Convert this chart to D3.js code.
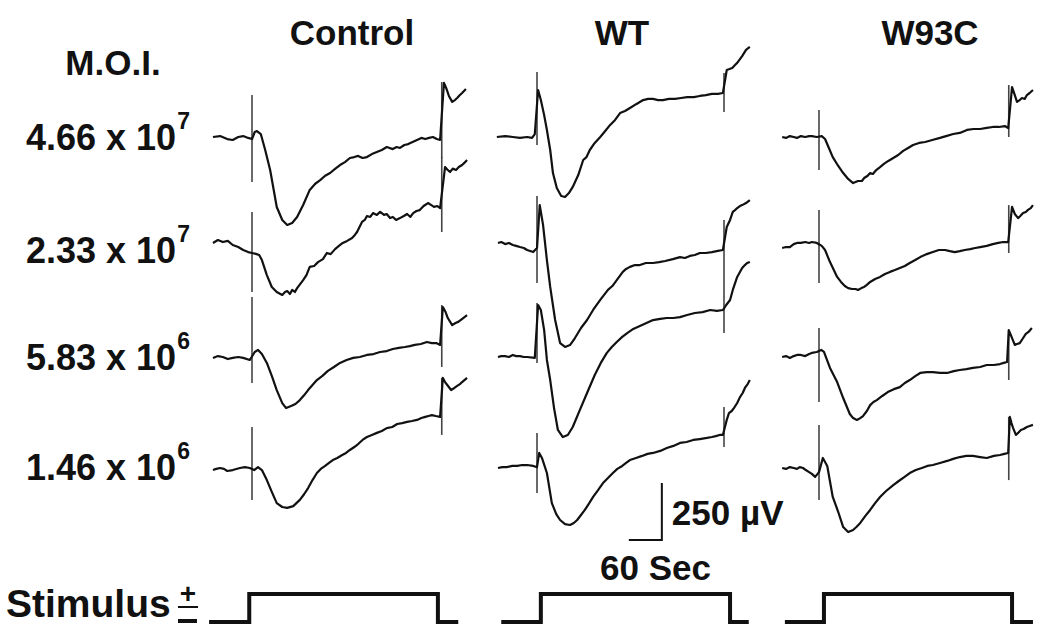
<!DOCTYPE html>
<html><head><meta charset="utf-8">
<script src="https://cdn.jsdelivr.net/npm/d3@7"></script>
<style>body{margin:0;background:#fff}svg{display:block}text{font-family:"Liberation Sans",Arial,sans-serif;font-weight:bold;fill:#111}</style>
</head><body><svg id="c" width="1050" height="642"></svg>
<script>
// ---------- data (time in s relative to stimulus onset, voltage in µV relative to row baseline) ----------
const columns = ["Control", "WT", "W93C"];
const moiMantissa = ["4.66 x 10", "2.33 x 10", "5.83 x 10", "1.46 x 10"];
const moiExponent = ["7", "7", "6", "6"];
const offsetTime = [345, 340, 345];

const ctrl1 = [[-71,0],[-58,4],[-45,-9],[-35,-13],[-25,0],[-16,4],[-7,-4],[0,-9],[5,22],[9,26],[16,13],[24,-57],[33,-145],[45,-307],[55,-364],[64,-386],[73,-377],[82,-351],[93,-298],[105,-232],[115,-205],[124,-189],[133,-170],[142,-158],[151,-140],[160,-123],[169,-110],[178,-92],[186,-88],[193,-83],[201,-92],[209,-88],[218,-75],[227,-66],[236,-57],[245,-44],[256,-53],[263,-44],[269,-48],[277,-35],[284,-31],[292,-22],[300,-13],[308,-4],[315,-9],[322,-4],[329,0],[336,-9],[342,-13],[349,237],[353,215],[358,180],[364,154],[369,162],[373,171],[378,184],[382,193],[389,211]];
const ctrl2 = [[-71,9],[-62,22],[-53,13],[-44,18],[-35,0],[-25,-9],[-16,-22],[-7,-31],[0,-35],[7,-39],[13,-44],[18,-66],[27,-132],[36,-184],[45,-206],[55,-219],[60,-206],[64,-202],[69,-215],[73,-197],[78,-206],[82,-189],[93,-154],[99,-132],[105,-96],[113,-92],[120,-75],[129,-62],[136,-35],[143,-40],[151,-18],[158,-4],[165,9],[173,18],[182,31],[187,44],[191,57],[200,101],[205,110],[209,127],[215,123],[220,140],[227,132],[233,145],[240,132],[245,136],[251,118],[256,123],[262,110],[269,118],[276,127],[282,136],[288,123],[293,140],[299,149],[305,153],[312,171],[320,184],[326,175],[331,167],[337,171],[342,162],[351,342],[355,331],[360,320],[365,335],[371,329],[376,342],[382,351],[386,360],[391,373]];
const ctrl3 = [[-71,-4],[-62,4],[-53,0],[-44,-9],[-35,-4],[-25,0],[-16,-4],[-4,-13],[5,22],[11,31],[18,13],[27,-26],[36,-83],[45,-145],[55,-202],[62,-224],[71,-215],[79,-206],[87,-189],[95,-167],[102,-145],[110,-123],[118,-101],[128,-83],[138,-61],[149,-44],[160,-26],[172,-13],[184,-4],[196,0],[209,9],[221,13],[233,22],[245,26],[256,35],[267,40],[278,44],[287,48],[296,53],[307,57],[318,66],[327,61],[335,61],[342,53],[347,219],[352,197],[356,171],[364,140],[370,149],[375,154],[384,171],[391,184]];
const ctrl4 = [[-71,-9],[-65,-4],[-58,0],[-51,-4],[-45,-13],[-35,-9],[-22,0],[-13,4],[-4,0],[4,-9],[11,4],[18,-9],[27,-53],[36,-105],[45,-154],[55,-171],[64,-175],[75,-167],[87,-140],[95,-114],[102,-88],[110,-53],[118,-22],[125,-4],[133,9],[140,22],[147,35],[155,44],[164,57],[171,66],[178,79],[186,92],[193,105],[201,123],[209,136],[218,145],[227,154],[236,162],[245,175],[255,180],[264,193],[273,197],[282,202],[291,206],[300,211],[308,219],[315,224],[321,228],[327,232],[334,228],[342,224],[347,395],[351,377],[355,364],[362,342],[368,351],[373,360],[378,368],[382,377],[391,395]];

const wt1 = [[-73,0],[-58,4],[-44,0],[-31,-4],[-18,0],[-9,-4],[-4,13],[2,206],[7,162],[13,96],[18,31],[24,-57],[29,-158],[36,-224],[44,-259],[51,-263],[58,-246],[65,-219],[75,-167],[84,-101],[90,-88],[96,-57],[105,-26],[115,0],[124,26],[133,53],[142,75],[151,105],[160,114],[169,127],[181,145],[193,162],[202,167],[211,167],[220,162],[229,162],[240,167],[251,167],[262,171],[273,175],[285,175],[296,180],[307,184],[318,189],[329,189],[338,193],[345,294],[350,298],[355,303],[360,316],[364,325],[369,342],[373,355],[380,382],[387,395]];
const wt2 = [[-71,9],[-65,13],[-58,4],[-51,9],[-44,0],[-38,-4],[-31,-9],[-24,-13],[-18,-22],[-7,-31],[0,-13],[5,175],[11,88],[18,-66],[24,-184],[33,-329],[42,-430],[51,-447],[60,-439],[69,-408],[80,-364],[91,-329],[102,-285],[115,-241],[122,-219],[129,-197],[137,-180],[145,-154],[156,-118],[162,-105],[169,-96],[178,-88],[187,-88],[198,-79],[211,-79],[222,-75],[233,-70],[247,-62],[260,-53],[269,-57],[278,-48],[287,-44],[296,-35],[307,-35],[318,-31],[329,-26],[338,-22],[345,79],[351,110],[356,145],[360,153],[364,162],[369,171],[373,175],[380,184],[387,197]];
const wt3 = [[-71,0],[-65,4],[-58,4],[-51,0],[-44,9],[-38,4],[-31,4],[-24,0],[-18,0],[-4,-4],[2,228],[7,206],[13,118],[18,-13],[24,-101],[31,-224],[38,-320],[47,-351],[56,-342],[65,-307],[78,-232],[91,-158],[105,-79],[116,-26],[127,18],[136,44],[145,66],[155,88],[164,105],[175,123],[187,136],[199,149],[211,162],[224,167],[236,171],[248,171],[260,175],[273,184],[287,193],[301,197],[315,206],[327,202],[338,206],[344,228],[351,250],[356,294],[364,351],[369,373],[373,390],[378,403],[382,412],[387,417]];
const wt4 = [[-71,0],[-63,4],[-55,4],[-45,9],[-36,9],[-27,13],[-18,13],[-7,9],[0,4],[4,66],[9,44],[18,-22],[27,-154],[35,-202],[42,-228],[51,-246],[60,-250],[67,-241],[73,-228],[80,-206],[87,-184],[95,-154],[102,-127],[111,-97],[120,-66],[129,-44],[138,-22],[146,-4],[155,9],[162,22],[169,35],[180,44],[191,53],[201,62],[211,66],[224,75],[236,88],[248,97],[260,110],[272,114],[284,123],[296,127],[309,132],[318,136],[325,140],[332,145],[338,145],[345,211],[349,241],[354,250],[358,263],[364,285],[369,311],[374,329],[378,351],[383,368],[387,386]];

const w93_1 = [[-67,0],[-60,-4],[-53,4],[-46,0],[-40,-4],[-33,4],[-25,0],[-18,4],[-13,4],[-4,0],[5,4],[11,-9],[18,-48],[25,-88],[35,-127],[44,-158],[53,-184],[62,-202],[71,-193],[78,-193],[82,-180],[88,-171],[93,-158],[98,-162],[104,-145],[111,-132],[118,-118],[126,-105],[135,-92],[144,-79],[153,-61],[162,-48],[171,-35],[182,-26],[193,-22],[206,-13],[220,-4],[231,4],[244,13],[256,18],[269,31],[281,35],[293,35],[305,40],[316,44],[327,44],[338,48],[344,39],[351,219],[356,184],[360,154],[365,162],[369,171],[374,167],[378,184],[383,193],[389,206]];
const w93_2 = [[-67,-13],[-60,-9],[-53,-9],[-46,4],[-40,9],[-33,9],[-25,13],[-18,9],[-13,13],[-4,9],[5,-4],[11,-22],[20,-75],[33,-140],[40,-162],[47,-180],[53,-189],[60,-193],[66,-193],[71,-197],[77,-189],[82,-184],[87,-175],[93,-162],[102,-149],[111,-140],[120,-127],[129,-118],[138,-110],[147,-101],[156,-92],[165,-79],[175,-66],[184,-53],[196,-40],[207,-31],[218,-22],[229,-22],[238,-27],[247,-31],[256,-27],[265,-22],[275,-18],[284,-13],[293,-9],[305,-4],[316,4],[326,9],[335,13],[344,13],[351,167],[356,136],[362,118],[366,127],[371,140],[376,145],[380,154],[385,162],[389,175]];
const w93_3 = [[-67,0],[-60,4],[-53,-4],[-46,4],[-40,9],[-33,9],[-25,4],[-18,13],[-13,18],[-4,22],[4,31],[9,22],[20,-48],[33,-110],[44,-180],[50,-215],[56,-250],[62,-268],[69,-276],[75,-268],[80,-259],[87,-237],[93,-211],[99,-197],[105,-189],[115,-171],[125,-154],[136,-141],[147,-132],[156,-114],[165,-101],[175,-84],[184,-70],[196,-66],[207,-66],[220,-70],[233,-70],[245,-62],[256,-57],[268,-53],[280,-48],[293,-44],[305,-35],[318,-35],[329,-31],[336,-26],[342,-22],[345,118],[348,101],[351,83],[356,53],[360,57],[365,61],[370,79],[376,101],[381,110],[387,127]];
const w93_4 = [[-67,0],[-60,-4],[-53,4],[-46,0],[-40,-4],[-35,4],[-29,0],[-24,-9],[-18,-18],[-13,-26],[-7,-39],[0,-18],[7,44],[15,9],[25,-127],[35,-193],[44,-259],[53,-281],[62,-272],[68,-259],[75,-241],[84,-211],[93,-184],[102,-154],[111,-127],[122,-101],[135,-75],[145,-57],[155,-40],[165,-22],[176,-9],[187,0],[197,9],[207,13],[220,22],[233,31],[244,40],[256,48],[268,53],[280,53],[293,48],[305,44],[318,53],[329,57],[337,62],[344,66],[347,224],[350,197],[353,175],[358,145],[362,154],[367,167],[372,171],[378,180],[383,184],[389,189]];

const traces = [[ctrl1, ctrl2, ctrl3, ctrl4], [wt1, wt2, wt3, wt4], [w93_1, w93_2, w93_3, w93_4]];
// stimulus artefacts: [top µV, bottom µV]
const onsetArtifact = [
  [[184,-197],[145,-206],[263,-114],[180,-140]],
  [[285,-35],[215,-167],[237,-26],[154,-110]],
  [[118,-145],[154,-167],[127,-197],[189,-140]]
];
const offsetArtifact = [
  [[241,-92],[386,57],[228,-44],[395,145]],
  [[281,110],[110,-184],[307,105],[268,92]],
  [[228,0],[175,-35],[118,-101],[224,-53]]
];
// stimulus protocol per column: [trace start, on, off, trace end] (s)
const stimTimes = [[-78,-5,338,375],[-65,7,351,385],[-62,9,351,389]];
const scaleBarSec = 60, scaleBarUV = 250;

// ---------- layout ----------
const svg = d3.select("#c");
svg.append("rect").attr("width",1050).attr("height",642).attr("fill","#fff");
const onsetX = [252, 537, 819];
const baseY = [137, 245, 357, 468];
const xs = onsetX.map(o => d3.scaleLinear().domain([0, 60]).range([o, o + 33]));
const ys = baseY.map(b => d3.scaleLinear().domain([0, 250]).range([b, b - 57]));

// traces
traces.forEach((col, ci) => col.forEach((tr, ri) => {
  const x = xs[ci], y = ys[ri];
  const g = svg.append("g");
  g.append("line").attr("x1", x(0)).attr("x2", x(0))
    .attr("y1", y(onsetArtifact[ci][ri][0])).attr("y2", y(onsetArtifact[ci][ri][1]))
    .attr("stroke", "#444").attr("stroke-width", 1.6);
  g.append("line").attr("x1", x(offsetTime[ci])).attr("x2", x(offsetTime[ci]))
    .attr("y1", y(offsetArtifact[ci][ri][0])).attr("y2", y(offsetArtifact[ci][ri][1]))
    .attr("stroke", "#444").attr("stroke-width", 1.6);
  g.append("path").datum(tr)
    .attr("d", d3.line().x(d => x(d[0])).y(d => y(d[1])).curve(d3.curveLinear))
    .attr("fill", "none").attr("stroke", "#111").attr("stroke-width", 2.2)
    .attr("stroke-linejoin", "round");
}));

// column titles
const titleX = [352, 622, 930];
columns.forEach((c, i) => svg.append("text").attr("x", titleX[i]).attr("y", 45)
  .attr("text-anchor", "middle").attr("font-size", 35).text(c));

// M.O.I. labels
svg.append("text").attr("x", 113).attr("y", 75).attr("text-anchor", "middle").attr("font-size", 35).text("M.O.I.");
const labelBase = [150, 263, 370, 480];
moiMantissa.forEach((m, i) => {
  const t = svg.append("text").attr("x", 26).attr("y", labelBase[i]).attr("font-size", 36);
  t.append("tspan").text(m);
  t.append("tspan").attr("font-size", 23).attr("dx", 1).attr("dy", -21).text(moiExponent[i]);
});

// scale bar (anchored in WT / bottom row frame)
{
  const x = xs[1], y = ys[3];
  const t0 = 227, v0 = -316;
  svg.append("path")
    .attr("d", `M${x(t0)},${y(v0 + scaleBarUV)}L${x(t0)},${y(v0)}L${x(t0 - scaleBarSec)},${y(v0)}`)
    .attr("fill", "none").attr("stroke", "#111").attr("stroke-width", 2);
  svg.append("text").attr("x", x(t0) + 10).attr("y", 525).attr("font-size", 35).text("250 \u00B5V");
  svg.append("text").attr("x", 600).attr("y", 580).attr("font-size", 35).text("60 Sec");
}

// stimulus
const sy = d3.scaleLinear().domain([0, 1]).range([622, 594]);
stimTimes.forEach((st, ci) => {
  const x = xs[ci];
  const pts = [[st[0], 0], [st[1], 0], [st[1], 1], [st[2], 1], [st[2], 0], [st[3], 0]];
  svg.append("path").datum(pts)
    .attr("d", d3.line().x(d => x(d[0])).y(d => sy(d[1])))
    .attr("fill", "none").attr("stroke", "#111").attr("stroke-width", 4);
});
svg.append("text").attr("x", 6).attr("y", 617).attr("font-size", 39).text("Stimulus");
svg.append("text").attr("x", 188).attr("y", 603).attr("text-anchor", "middle").attr("font-size", 28).text("+");
svg.append("line").attr("x1", 178).attr("x2", 198).attr("y1", 607).attr("y2", 607).attr("stroke", "#111").attr("stroke-width", 2);
svg.append("line").attr("x1", 178).attr("x2", 197).attr("y1", 621).attr("y2", 621).attr("stroke", "#111").attr("stroke-width", 4);
</script></body></html>
